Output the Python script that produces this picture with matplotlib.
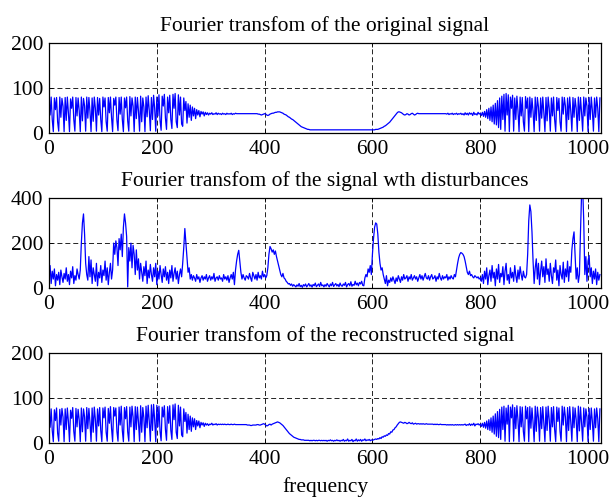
import numpy as np
import matplotlib
matplotlib.use('Agg')
from matplotlib import pyplot as plt

# spectrum magnitudes, one value every 2 frequency bins
original = [
    75, 40, 80, 30, 3, 78, 52, 79, 25, 4, 80, 35, 77, 60, 3, 79,
    28, 80, 45, 3, 76, 55, 80, 30, 4, 79, 38, 78, 50, 3, 80, 27,
    77, 60, 4, 80, 33, 79, 48, 3, 78, 26, 80, 55, 4, 79, 40, 77,
    30, 3, 80, 58, 78, 25, 4, 79, 45, 80, 35, 3, 77, 62, 80, 28,
    5, 79, 42, 80, 30, 3, 78, 56, 80, 27, 4, 81, 38, 78, 60, 3,
    80, 32, 79, 48, 4, 82, 25, 78, 58, 3, 80, 36, 83, 50, 5, 79,
    30, 84, 55, 4, 80, 38, 85, 28, 6, 82, 60, 86, 33, 8, 80, 45,
    84, 30, 10, 86, 55, 88, 25, 12, 85, 40, 80, 20, 15, 78, 50, 70,
    22, 65, 35, 62, 28, 58, 38, 55, 32, 52, 40, 50, 36, 48, 42, 47,
    38, 46, 41, 45, 40, 44, 42, 45, 41, 43, 42, 45, 41, 44, 42, 43,
    41, 44, 42, 43, 41, 44, 42, 43, 42, 44, 41, 43, 42, 44, 43, 43,
    43, 43, 43, 43, 43, 43, 43, 43, 43, 43, 43, 43, 43, 43, 43, 43,
    43, 43, 42, 42, 41, 40, 41, 42, 43, 42, 40, 39, 40, 42, 43, 44,
    44, 45, 46, 46, 47, 47, 47, 46, 45, 44, 42, 41, 40, 38, 36, 35,
    33, 31, 30, 28, 26, 24, 22, 20, 18, 16, 14, 13, 12, 11, 10, 9,
    8, 8, 7, 7, 7, 7, 7, 7, 7, 7, 7, 7, 7, 7, 7, 7,
    7, 7, 7, 7, 7, 7, 7, 7, 7, 7, 7, 7, 7, 7, 7, 7,
    7, 7, 7, 7, 7, 7, 7, 7, 7, 7, 7, 7, 7, 7, 7, 7,
    7, 7, 7, 7, 7, 7, 7, 7, 7, 7, 7, 7, 7, 7, 7, 8,
    8, 8, 9, 10, 11, 12, 13, 15, 16, 18, 20, 22, 24, 27, 30, 33,
    36, 39, 42, 45, 47, 47, 46, 45, 43, 41, 40, 41, 43, 42, 40, 41,
    43, 44, 42, 40, 41, 43, 44, 43, 43, 43, 43, 43, 43, 43, 43, 43,
    43, 43, 43, 43, 43, 43, 43, 43, 43, 43, 43, 43, 43, 43, 43, 43,
    43, 42, 44, 41, 43, 42, 44, 41, 43, 42, 44, 41, 43, 42, 44, 41,
    43, 40, 45, 41, 44, 40, 45, 42, 44, 39, 46, 41, 43, 40, 46, 42,
    44, 39, 46, 37, 48, 35, 52, 32, 55, 28, 58, 25, 62, 20, 66, 18,
    72, 12, 78, 8, 82, 30, 86, 4, 88, 40, 85, 3, 80, 55, 84, 4,
    78, 30, 82, 50, 3, 80, 38, 79, 25, 4, 81, 55, 78, 3, 80, 35,
    77, 48, 3, 80, 28, 79, 58, 4, 78, 33, 80, 45, 3, 79, 27, 80,
    55, 4, 78, 38, 80, 30, 3, 79, 50, 77, 25, 4, 80, 42, 79, 60,
    3, 78, 30, 80, 48, 4, 79, 35, 77, 55, 3, 80, 28, 79, 45, 4,
    80, 38, 78, 60, 3, 79, 30, 80, 50, 4, 78, 35, 80, 55, 3, 78,
]

disturbed = [
    55, 100, 20, 75, 40, 85, 10, 60, 35, 70, 15, 80, 50, 25, 65, 40,
    90, 30, 60, 15, 75, 45, 95, 20, 55, 35, 85, 60, 40, 80, 200, 290,
    330, 240, 110, 60, 35, 140, 50, 125, 20, 90, 60, 30, 110, 10, 70, 45,
    100, 25, 80, 55, 120, 35, 90, 15, 70, 110, 40, 80, 200, 150, 210, 180,
    100, 220, 170, 240, 140, 270, 330, 290, 230, 5, 180, 120, 200, 90, 190, 150,
    60, 170, 80, 130, 40, 110, 70, 30, 95, 55, 120, 20, 80, 45, 105, 60,
    30, 90, 50, 110, 15, 75, 40, 100, 60, 25, 85, 50, 95, 35, 70, 20,
    80, 45, 100, 30, 65, 90, 40, 75, 20, 60, 85, 50, 110, 180, 265, 200,
    130, 70, 90, 40, 60, 35, 55, 45, 30, 60, 40, 50, 25, 45, 55, 35,
    50, 40, 60, 30, 45, 55, 35, 50, 40, 65, 30, 45, 50, 35, 55, 40,
    45, 30, 60, 40, 50, 35, 55, 25, 45, 60, 40, 70, 15, 80, 120, 150,
    168, 120, 70, 40, 60, 45, 35, 55, 50, 40, 65, 45, 30, 70, 55, 40,
    60, 35, 70, 45, 55, 40, 75, 50, 60, 45, 55, 90, 150, 185, 175, 160,
    170, 150, 165, 140, 120, 100, 80, 60, 50, 65, 45, 40, 30, 25, 18, 20,
    12, 18, 8, 15, 10, 5, 14, 8, 20, 6, 12, 3, 15, 9, 18, 5,
    12, 20, 8, 14, 4, 16, 10, 22, 6, 12, 18, 7, 25, 10, 14, 5,
    15, 8, 20, 12, 5, 18, 10, 25, 7, 14, 20, 9, 16, 6, 22, 11,
    8, 18, 12, 25, 5, 15, 20, 10, 28, 8, 16, 12, 30, 14, 22, 10,
    25, 18, 30, 12, 10, 45, 60, 50, 85, 70, 100, 60, 150, 220, 270, 290,
    285, 240, 160, 110, 80, 90, 60, 40, 20, 55, 10, 35, 25, 45, 30, 50,
    35, 20, 45, 30, 55, 40, 25, 50, 35, 60, 40, 45, 55, 30, 50, 40,
    60, 35, 45, 55, 40, 50, 30, 45, 60, 40, 55, 35, 50, 65, 45, 40,
    55, 35, 50, 60, 40, 45, 55, 30, 50, 40, 65, 45, 35, 55, 40, 50,
    45, 60, 35, 50, 40, 55, 45, 40, 60, 50, 80, 110, 135, 150, 158, 155,
    150, 140, 120, 95, 70, 60, 75, 55, 60, 50, 45, 55, 50, 45, 50, 40,
    45, 30, 60, 20, 75, 40, 90, 15, 55, 80, 30, 100, 45, 70, 10, 85,
    40, 105, 25, 65, 50, 95, 15, 75, 110, 35, 60, 20, 90, 45, 70, 30,
    100, 55, 25, 80, 40, 95, 60, 35, 75, 50, 45, 60, 150, 300, 370, 340,
    250, 120, 20, 90, 130, 40, 110, 15, 75, 120, 50, 95, 25, 130, 60, 85,
    30, 110, 55, 20, 90, 70, 125, 35, 80, 10, 100, 60, 40, 115, 25, 85,
    50, 120, 30, 95, 70, 170, 220, 250, 150, 40, 90, 25, 60, 250, 420, 450,
    300, 60, 140, 30, 120, 145, 50, 90, 20, 75, 40, 85, 15, 70, 35, 60,
]

reconstructed = [
    72, 35, 76, 28, 3, 74, 50, 78, 22, 4, 75, 40, 77, 58, 3, 76,
    30, 78, 48, 3, 73, 55, 79, 26, 4, 77, 36, 75, 52, 3, 78, 25,
    76, 58, 4, 79, 32, 77, 46, 3, 78, 24, 80, 53, 4, 76, 38, 79,
    28, 3, 78, 56, 80, 24, 4, 77, 44, 81, 33, 3, 79, 60, 78, 26,
    4, 80, 40, 82, 28, 3, 79, 54, 81, 25, 4, 80, 36, 82, 58, 3,
    81, 30, 80, 46, 4, 83, 24, 79, 56, 3, 82, 34, 84, 48, 4, 85,
    28, 86, 52, 3, 84, 36, 82, 26, 5, 80, 58, 83, 30, 6, 81, 44,
    83, 28, 8, 85, 52, 87, 24, 10, 84, 38, 80, 18, 14, 76, 48, 68,
    22, 64, 30, 60, 26, 56, 36, 54, 30, 50, 38, 49, 34, 46, 40, 45,
    37, 44, 40, 43, 39, 42, 41, 44, 40, 42, 41, 43, 40, 42, 41, 42,
    41, 42, 41, 42, 41, 41, 42, 41, 41, 42, 41, 41, 42, 41, 41, 41,
    41, 41, 41, 41, 41, 41, 41, 41, 40, 40, 40, 39, 39, 40, 40, 40,
    40, 41, 41, 40, 40, 41, 42, 43, 42, 40, 38, 39, 41, 42, 40, 42,
    43, 44, 45, 46, 47, 46, 45, 43, 41, 39, 36, 33, 30, 27, 24, 21,
    19, 17, 15, 13, 12, 11, 10, 9, 8, 8, 7, 7, 7, 6, 6, 6,
    6, 6, 5, 6, 5, 6, 6, 5, 6, 5, 6, 6, 5, 6, 5, 6,
    5, 6, 4, 6, 5, 7, 5, 6, 4, 6, 5, 7, 5, 6, 4, 6,
    5, 8, 4, 6, 5, 9, 4, 6, 5, 8, 3, 6, 5, 9, 4, 7,
    5, 8, 4, 7, 6, 9, 5, 7, 6, 8, 5, 7, 6, 7, 8, 9,
    8, 10, 9, 12, 10, 14, 13, 16, 15, 18, 17, 21, 20, 25, 24, 29,
    30, 34, 36, 40, 43, 46, 47, 46, 45, 44, 46, 45, 43, 44, 46, 44,
    43, 45, 42, 43, 44, 42, 43, 43, 42, 43, 42, 43, 42, 42, 43, 42,
    42, 42, 42, 42, 42, 41, 42, 41, 42, 41, 41, 42, 41, 41, 41, 41,
    41, 40, 41, 40, 41, 40, 41, 40, 40, 41, 40, 41, 40, 41, 40, 41,
    40, 41, 42, 39, 41, 40, 43, 39, 42, 40, 44, 38, 42, 41, 43, 40,
    42, 37, 44, 35, 46, 33, 49, 30, 52, 28, 56, 24, 60, 20, 65, 15,
    70, 12, 75, 8, 80, 30, 82, 4, 78, 42, 84, 3, 80, 56, 85, 4,
    79, 32, 83, 52, 3, 81, 36, 80, 26, 4, 82, 54, 79, 3, 81, 33,
    78, 46, 3, 82, 26, 80, 56, 4, 79, 32, 81, 44, 3, 80, 28, 82,
    52, 4, 79, 36, 81, 30, 3, 80, 48, 78, 26, 4, 82, 40, 80, 58,
    3, 79, 28, 81, 46, 4, 80, 34, 78, 52, 3, 82, 27, 80, 44, 4,
    78, 36, 76, 58, 3, 77, 30, 78, 48, 4, 76, 34, 78, 54, 3, 76,
]

freq = np.arange(0, 1024, 2)
titles = ['Fourier transfom of the original signal',
          'Fourier transfom of the signal wth disturbances',
          'Fourier transfom of the reconstructed signal']
series = [original, disturbed, reconstructed]
ymax = [200, 400, 200]
yticks = [[0, 100, 200], [0, 200, 400], [0, 100, 200]]
xticks = [0, 200, 400, 600, 800, 1000]

plt.rcParams['font.family'] = ['Liberation Serif', 'DejaVu Serif']
fs = 15.5

fig = plt.figure(figsize=(6.11, 4.99), dpi=100)
bottoms = [0.7335, 0.4228, 0.1122]

for k in range(3):
    ax = fig.add_axes([0.0802, bottoms[k], 0.9034, 0.18])
    ax.plot(freq, series[k], color='#0000ff', lw=0.9)
    ax.set_xlim(0, 1024)
    ax.set_ylim(0, ymax[k])
    ax.set_xticks(xticks)
    ax.set_yticks(yticks[k])
    ax.grid(True, color='black', linestyle=(0, (6, 3.5)), linewidth=0.6)
    ax.tick_params(direction='in', top=True, right=True, length=3, width=0.6,
                   labelsize=fs)
    ax.tick_params(axis='x', pad=5)
    ax.tick_params(axis='y', pad=4)
    for s in ax.spines.values():
        s.set_linewidth(0.9)
    ax.set_title(titles[k], fontsize=fs, pad=9)

ax.set_xlabel('frequency', fontsize=fs, labelpad=6)

fig.savefig('out.png', dpi=100)
